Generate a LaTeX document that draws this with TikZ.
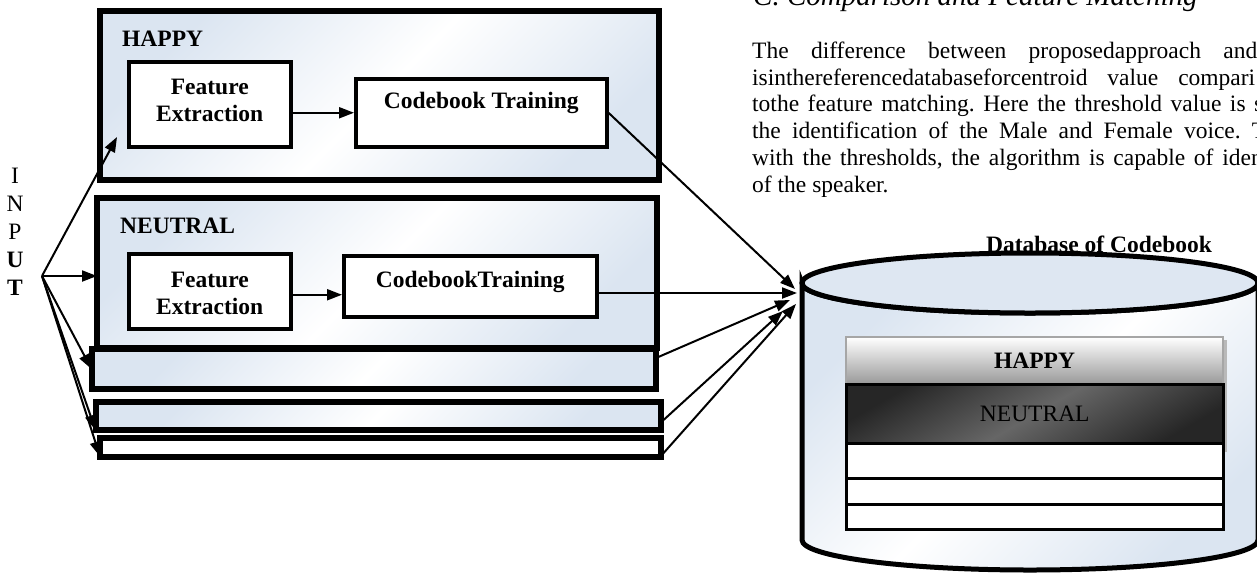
\documentclass[tikz,border=0pt]{standalone}
\usepackage{fontspec}
\setmainfont{Liberation Serif}
\usetikzlibrary{arrows.meta}
\definecolor{paleblue}{RGB}{219,229,241}
\definecolor{lidblue}{RGB}{222,231,242}
\begin{document}
\begin{tikzpicture}[x=1pt,y=-1pt,
  txt/.style={inner sep=0pt,font=\fontsize{23.5}{27}\selectfont},
  btxt/.style={inner sep=0pt,font=\fontsize{23.5}{27}\selectfont\bfseries},
  panel/.style={draw,line width=6pt,top color=paleblue,bottom color=paleblue,middle color=white,shading angle=45,anchor=north west,inner sep=0pt,outer sep=0pt},
  plain/.style={draw,line width=6pt,fill=white,anchor=north west,inner sep=0pt,outer sep=0pt},
  stage/.style={draw,line width=3.5pt,fill=white,anchor=north west,inner sep=0pt},
  link/.style={line width=2pt,-{Triangle[length=15pt,width=11pt]}},
  row/.style={draw,line width=2.5pt,fill=white,anchor=north west,inner sep=0pt,minimum width=377pt,font=\fontsize{23.5}{27}\selectfont},
]
\useasboundingbox (0,0) rectangle (1257,574);

% vertical INPUT label and the common source point
\node[txt,anchor=base] (inI) at (15,183) {I};
\node[txt,anchor=base] (inN) at (15,211) {N};
\node[txt,anchor=base] (inP) at (15,239) {P};
\node[btxt,anchor=base] (inU) at (15,267) {U};
\node[btxt,anchor=base] (inT) at (15,295) {T};
\coordinate (src) at (42,276);

% HAPPY panel
\node[panel,minimum width=559pt,minimum height=169pt] (happy) at (100,11) {};
\node[btxt,anchor=base west] (happyt) at (122,46) {HAPPY};
\node[stage,minimum width=162pt,minimum height=85pt] (fe1) at (127,60) {};
\node[btxt,align=center] (fe1t) at ([yshift=4pt]fe1.center) {Feature\\Extraction};
\node[stage,minimum width=251pt,minimum height=68pt] (cb1) at (354,77) {};
\node[btxt,anchor=base] (cb1t) at ([yshift=4pt]cb1.center) {Codebook Training};
\draw[link] (fe1.east |- cb1.west) -- (cb1.west);

% NEUTRAL panel
\node[panel,minimum width=560pt,minimum height=150pt] (neutral) at (97,198) {};
\node[btxt,anchor=base west] (neutralt) at (120,233) {NEUTRAL};
\node[stage,minimum width=162pt,minimum height=75pt] (fe2) at (127,252) {};
\node[btxt,align=center] (fe2t) at ([yshift=-1.7pt]fe2.center) {Feature\\Extraction};
\node[stage,minimum width=253pt,minimum height=61pt] (ct2) at (342,254) {};
\node[btxt,anchor=base] (ct2t) at ([yshift=-1.5pt]ct2.center) {CodebookTraining};
\coordinate (fe2out) at ([yshift=-3.5pt]fe2.east);
\draw[link] (fe2out) -- (fe2out -| ct2.west);

% further (empty) emotion panels
\node[panel,minimum width=564.5pt,minimum height=40pt] (blank1) at (91.5,349) {};
\node[panel,minimum width=565pt,minimum height=28.5pt] (blank2) at (95.5,401.5) {};
\node[plain,minimum width=560.5pt,minimum height=18.5pt] (blank3) at (100,438) {};

% input fan-out
\coordinate (happyin) at (117,137);
\draw[link] (src) -- (happyin);
\draw[link] (src) -- (src -| neutral.west);
\draw[link] (src) -- (blank1.west);
\draw[link] (src) -- (blank2.south west);
\draw[link] (src) -- (blank3.south west);

% section text
\node[inner sep=0pt,anchor=base west,font=\fontsize{29}{32}\selectfont\itshape] (head) at (753,5) {C. Comparison and Feature Matching};
\node[txt,anchor=base west] (p1) at (752,58) {\hbox to 505pt{The\hfill difference\hfill between\hfill proposedapproach\hfill and}};
\node[txt,anchor=base west] (p2) at (752,85) {\hbox to 503pt{isinthereferencedatabaseforcentroid\hfill value\hfill compari}};
\node[txt,anchor=base west] (p3) at (752,111) {\hbox to 511pt{tothe\hfill feature\hfill matching.\hfill Here\hfill the\hfill threshold\hfill value\hfill is\hfill s}};
\node[txt,anchor=base west] (p4) at (752,138) {\hbox to 514pt{the\hfill identification\hfill of\hfill the\hfill Male\hfill and\hfill Female\hfill voice.\hfill T}};
\node[txt,anchor=base west] (p5) at (752,165) {\hbox to 510.5pt{with\hfill the\hfill thresholds,\hfill the\hfill algorithm\hfill is\hfill capable\hfill of\hfill iden}};
\node[txt,anchor=base west] (p6) at (752,192) {of the speaker.};

% codebook database cylinder
\node[btxt,anchor=base] (dbt) at (1099,252) {Database of Codebook};
\path[draw,line width=5pt,top color=paleblue,bottom color=paleblue,middle color=white,shading angle=45]
  (802,283) -- (802,540) arc[start angle=180,end angle=0,x radius=228,y radius=30]
  -- (1258,283) arc[start angle=0,end angle=180,x radius=228,y radius=30] -- cycle;
\draw[line width=5pt,fill=lidblue] (1030,283) ellipse [x radius=228,y radius=30];

% stored codebooks
\fill[gray!55] (1222,340) rectangle (1227,452);
\node[row,draw=gray!70,line width=2pt,top color=white,bottom color=gray!80,minimum height=47pt,font=\fontsize{23.5}{27}\selectfont\bfseries] (rhappy) at (845,336) {HAPPY};
\node[row,top color=black!85,bottom color=black!85,middle color=black!60,shading angle=30,minimum height=59pt] (rneutral) at (845,383) {NEUTRAL};
\node[row,minimum height=35pt] (rc) at (845,442) {};
\node[row,minimum height=26pt] (rd) at (845,477) {};
\node[row,minimum height=25pt] (re) at (845,503) {};

% codebooks sent to the database
\coordinate (db1) at (795,289);
\coordinate (db2) at (797,293);
\coordinate (db3) at (790,300);
\coordinate (db4) at (783,311);
\coordinate (db5) at (796,304);
\draw[link] (cb1.east) -- (db1);
\draw[link] (ct2.east |- db2) -- (db2);
\draw[link] ([yshift=11pt]blank1.east) -- (db3);
\draw[link] ([yshift=-7pt]blank2.east) -- (db4);
\draw[link] (blank3.south east) -- (db5);
\end{tikzpicture}
\end{document}
